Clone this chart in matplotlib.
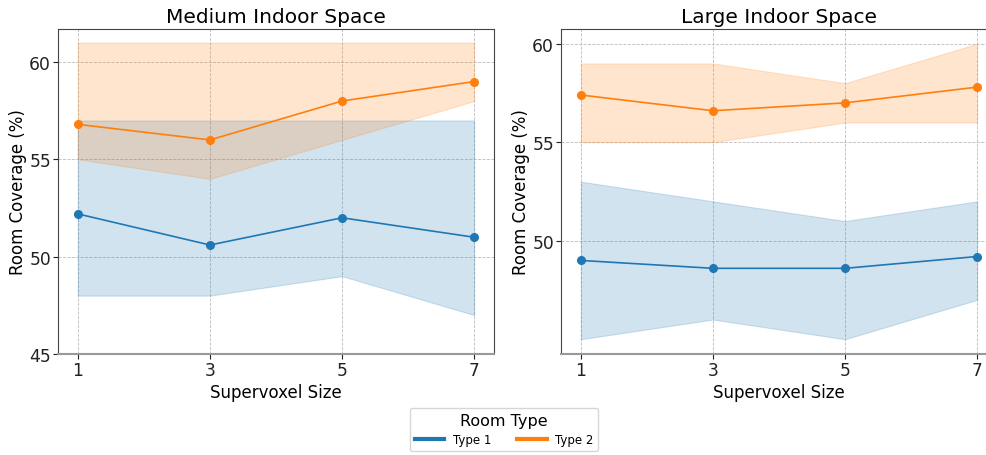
import matplotlib
matplotlib.use("Agg")
import matplotlib.pyplot as plt
from matplotlib.lines import Line2D

sizes = [1, 3, 5, 7]

# Medium indoor space
med_t1_mean = [52.2, 50.6, 52.0, 51.0]
med_t1_low = [48.0, 48.0, 49.0, 47.0]
med_t1_high = [57.0, 57.0, 57.0, 57.0]
med_t2_mean = [56.8, 56.0, 58.0, 59.0]
med_t2_low = [55.0, 54.0, 56.0, 58.0]
med_t2_high = [61.0, 61.0, 61.0, 61.0]

# Large indoor space
lrg_t1_mean = [49.0, 48.6, 48.6, 49.2]
lrg_t1_low = [45.0, 46.0, 45.0, 47.0]
lrg_t1_high = [53.0, 52.0, 51.0, 52.0]
lrg_t2_mean = [57.4, 56.6, 57.0, 57.8]
lrg_t2_low = [55.0, 55.0, 56.0, 56.0]
lrg_t2_high = [59.0, 59.0, 58.0, 60.0]

titles = ["Medium Indoor Space", "Large Indoor Space"]
series_labels = ["Type 1", "Type 2"]
legend_title = "Room Type"
x_label = "Supervoxel Size"
y_label = "Room Coverage (%)"

W, H = 987, 456
fig = plt.figure(figsize=(W / 100, H / 100), dpi=100)

ax1 = fig.add_axes([58 / W, 1 - 355 / H, 436 / W, 325 / H])
ax2 = fig.add_axes([561 / W, 1 - 355 / H, 436 / W, 325 / H])

colors = ["#1f77b4", "#ff7f0e"]

panels = [
    (ax1, [(med_t1_mean, med_t1_low, med_t1_high), (med_t2_mean, med_t2_low, med_t2_high)]),
    (ax2, [(lrg_t1_mean, lrg_t1_low, lrg_t1_high), (lrg_t2_mean, lrg_t2_low, lrg_t2_high)]),
]

for (ax, series), title in zip(panels, titles):
    for (mean, low, high), c, lab in zip(series, colors, series_labels):
        ax.fill_between(sizes, low, high, color=c, alpha=0.2, linewidth=0.8)
        ax.plot(sizes, mean, color=c, marker="o", markersize=5.5, linewidth=1.2, label=lab)
    ax.set_title(title, fontsize=14.5, pad=5)
    ax.set_xlabel(x_label, fontsize=12, labelpad=3)
    ax.set_ylabel(y_label, fontsize=12, labelpad=1.5)
    ax.set_xticks(sizes)
    ax.tick_params(axis="both", labelsize=12.3, colors="#222222", length=3.5, pad=1.5)
    ax.grid(True, linestyle="--", linewidth=0.6, color="#bbbbbb")
    ax.set_axisbelow(True)
    for side in ["left", "top", "right"]:
        ax.spines[side].set_color("#444444")
    ax.spines["bottom"].set_color("#999999")
    ax.spines["bottom"].set_linewidth(1.5)

ax1.set_ylim(bottom=45)
ax1.set_yticks([45, 50, 55, 60])
ax2.set_yticks([50, 55, 60])

handles = [Line2D([0], [0], color=c, linewidth=3) for c in colors]
fig.legend(handles, series_labels, title=legend_title, ncol=2, fontsize=8.5,
           title_fontsize=11.5, loc="center", bbox_to_anchor=(504 / W, 1 - 430.5 / H),
           frameon=True, columnspacing=2.2, handlelength=2.5, handletextpad=0.7)

fig.savefig("out.png", dpi=100)
